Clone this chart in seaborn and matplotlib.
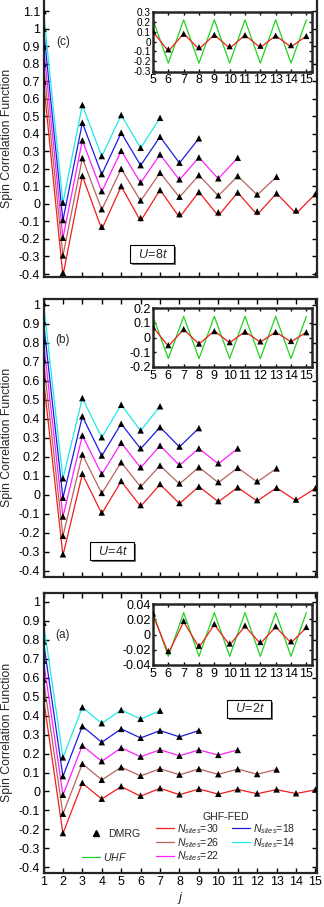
import matplotlib
matplotlib.use("Agg")
import matplotlib.patheffects as pe
import matplotlib.pyplot as plt
import numpy as np
import seaborn as sns
from matplotlib.lines import Line2D

# chain lengths, vertical shift used in the figure, line colours
sites = [30, 26, 22, 18, 14]
shifts = [0.0, 0.1, 0.2, 0.3, 0.4]
site_colors = ["#f41c1c", "#b8645c", "#ff20ff", "#1c1ce6", "#20e8e8"]
uhf_color = "#22d222"

# ---- U = 8t (unshifted values, j = 1 ...) ----
dmrg_u8 = [
    [0.70, -0.393, 0.160, -0.130, 0.102, -0.080, 0.079, -0.058, 0.068, -0.048, 0.065, -0.043, 0.060, -0.037, 0.056],
    [0.70, -0.394, 0.161, -0.130, 0.100, -0.080, 0.078, -0.059, 0.064, -0.051, 0.059, -0.046, 0.055],
    [0.70, -0.393, 0.162, -0.127, 0.103, -0.077, 0.082, -0.060, 0.065, -0.054, 0.063],
    [0.70, -0.392, 0.163, -0.130, 0.106, -0.079, 0.083, -0.065, 0.074],
    [0.70, -0.393, 0.164, -0.127, 0.107, -0.080, 0.091],
]
ghf_u8 = [
    [0.70, -0.410, 0.160, -0.145, 0.100, -0.098, 0.080, -0.077, 0.068, -0.068, 0.065, -0.062, 0.060, -0.055, 0.056],
    [0.70, -0.396, 0.161, -0.133, 0.100, -0.083, 0.078, -0.062, 0.064, -0.054, 0.059, -0.049, 0.055],
    [0.70, -0.395, 0.162, -0.130, 0.103, -0.080, 0.082, -0.063, 0.065, -0.056, 0.063],
    [0.70, -0.394, 0.163, -0.132, 0.106, -0.081, 0.083, -0.067, 0.074],
    [0.70, -0.395, 0.164, -0.129, 0.107, -0.082, 0.091],
]
uhf_u8 = [0.22, -0.22, 0.22, -0.22, 0.22, -0.22, 0.22, -0.22, 0.22, -0.22, 0.22]

# ---- U = 4t ----
dmrg_u4 = [
    [0.61, -0.312, 0.112, -0.092, 0.074, -0.053, 0.058, -0.042, 0.044, -0.032, 0.040, -0.027, 0.038, -0.024, 0.036],
    [0.61, -0.315, 0.113, -0.089, 0.072, -0.054, 0.055, -0.039, 0.046, -0.032, 0.043, -0.028, 0.040],
    [0.61, -0.313, 0.113, -0.089, 0.075, -0.054, 0.060, -0.041, 0.045, -0.033, 0.045],
    [0.61, -0.314, 0.114, -0.092, 0.075, -0.054, 0.057, -0.045, 0.052],
    [0.61, -0.312, 0.110, -0.096, 0.075, -0.060, 0.067],
]
ghf_u4 = [
    [0.61, -0.318, 0.110, -0.098, 0.072, -0.060, 0.056, -0.045, 0.045, -0.036, 0.040, -0.032, 0.038, -0.030, 0.036],
    [0.61, -0.317, 0.113, -0.092, 0.072, -0.057, 0.055, -0.042, 0.046, -0.035, 0.043, -0.031, 0.040],
    [0.61, -0.315, 0.113, -0.092, 0.075, -0.057, 0.060, -0.044, 0.045, -0.036, 0.045],
    [0.61, -0.316, 0.114, -0.094, 0.075, -0.057, 0.057, -0.047, 0.052],
    [0.61, -0.314, 0.110, -0.098, 0.075, -0.062, 0.067],
]
uhf_u4 = [0.145, -0.145, 0.145, -0.145, 0.145, -0.145, 0.145, -0.145, 0.145, -0.145, 0.145]

# ---- U = 2t ----
dmrg_u2 = [
    [0.49, -0.219, 0.046, -0.038, 0.028, -0.022, 0.018, -0.015, 0.014, -0.012, 0.012, -0.010, 0.011, -0.009, 0.010],
    [0.49, -0.217, 0.046, -0.038, 0.028, -0.017, 0.020, -0.011, 0.019, -0.009, 0.018, -0.008, 0.016],
    [0.49, -0.217, 0.042, -0.040, 0.030, -0.016, 0.020, -0.011, 0.019, -0.007, 0.019],
    [0.49, -0.219, 0.044, -0.040, 0.030, -0.017, 0.021, -0.011, 0.021],
    [0.49, -0.220, 0.044, -0.040, 0.030, -0.017, 0.026],
]
ghf_u2 = [
    [0.49, -0.222, 0.044, -0.040, 0.026, -0.025, 0.017, -0.017, 0.013, -0.014, 0.011, -0.012, 0.010, -0.011, 0.009],
    [0.49, -0.219, 0.046, -0.039, 0.028, -0.018, 0.020, -0.012, 0.019, -0.010, 0.018, -0.009, 0.016],
    [0.49, -0.219, 0.042, -0.041, 0.030, -0.017, 0.020, -0.012, 0.019, -0.008, 0.019],
    [0.49, -0.221, 0.044, -0.041, 0.030, -0.018, 0.021, -0.012, 0.021],
    [0.49, -0.222, 0.044, -0.041, 0.030, -0.018, 0.026],
]
uhf_u2 = [0.029, -0.029, 0.029, -0.029, 0.029, -0.029, 0.029, -0.029, 0.029, -0.029, 0.029]

inset_j = list(range(5, 16))

sns.set_style("ticks")
plt.rcParams["font.family"] = ["Liberation Sans", "DejaVu Sans"]
plt.rcParams["mathtext.fontset"] = "custom"
plt.rcParams["mathtext.rm"] = "Liberation Sans"
plt.rcParams["mathtext.it"] = "Liberation Sans:italic"

W, H = 324.0, 907.0
fig = plt.figure(figsize=(W / 100, H / 100), dpi=100)


def px_rect(left, top, right, bottom):
    return [left / W, 1 - bottom / H, (right - left) / W, (bottom - top) / H]


def style_axes(ax, lw, top=True):
    for s in ax.spines.values():
        s.set_linewidth(lw)
    ax.tick_params(direction="in", top=top, right=True, length=3.5, width=1.0,
                   labelsize=9, pad=2.5, colors="black")
    if not top:
        ax.spines["top"].set_visible(False)


panels = [
    # dmrg, ghf, uhf, rect(px), ylim, top ytick, inset rect, inset lim, inset yticks, inset ylabel size, tag, U, U pos
    (dmrg_u8, ghf_u8, uhf_u8, (43.5, 0, 317, 277), (-0.417, 1.163), 1.1,
     (153, 11.5, 311.7, 71.5), 0.305, [-0.3, -0.2, -0.1, 0, 0.1, 0.2, 0.3], 7.2, "(c)", "8", (0.397, 0.083)),
    (dmrg_u4, ghf_u4, uhf_u4, (43.5, 298.5, 317, 576.7), (-0.43, 1.034), 1.0,
     (153, 308, 311.7, 367), 0.203, [-0.2, -0.1, 0, 0.1, 0.2], 9, "(b)", "4", (0.25, 0.092)),
    (dmrg_u2, ghf_u2, uhf_u2, (43.5, 593, 317, 872.7), (-0.428, 1.046), 1.0,
     (153, 604, 311.7, 665), 0.0405, [-0.04, -0.02, 0, 0.02, 0.04], 9, "(a)", "2", (0.751, 0.587)),
]

for k, (dmrg, ghf, uhf, rect, ylim, ytop, irect, ilim, iticks, isize, tag, uval, upos) in enumerate(panels):
    ax = fig.add_axes(px_rect(*rect))
    for shift, col, d, g in zip(shifts, site_colors, dmrg, ghf):
        sns.lineplot(x=np.arange(1, len(g) + 1), y=np.add(g, shift), color=col,
                     linewidth=0.9, ax=ax, zorder=2)
        sns.scatterplot(x=np.arange(1, len(d) + 1), y=np.add(d, shift), marker="^",
                        color="black", s=22, edgecolor="none", ax=ax, zorder=3)
    ax.set_xlim(1, 15.08)
    ax.set_ylim(*ylim)
    ax.set_xticks(range(1, 16))
    yt = np.round(np.arange(-0.4, ytop + 0.01, 0.1), 1)
    ax.set_yticks(yt)
    ax.set_yticklabels([f"{t + 0:g}" for t in yt])
    style_axes(ax, 1.6, top=(k != 0))
    if k == 2:
        ax.set_xticklabels([str(v) for v in range(1, 16)])
        ax.set_xlabel(r"$j$", fontsize=9.5, labelpad=1)
    else:
        ax.set_xticklabels([])
    ax.set_ylabel("Spin Correlation Function", fontsize=8.8)
    ax.yaxis.set_label_coords(-0.11, 0.5)

    ax.text(0.071, 0.85, tag, transform=ax.transAxes, fontsize=8.5,
            ha="center", va="center")
    ut = ax.text(upos[0], upos[1], "  $U$=" + uval + "$t$  ", transform=ax.transAxes,
                 fontsize=9, ha="center", va="center",
                 bbox=dict(boxstyle="square,pad=0.2", fc="white", ec="black", lw=0.8))
    ut.get_bbox_patch().set_path_effects([
        pe.SimplePatchShadow(offset=(1.6, -1.6), shadow_rgbFace="0.45", alpha=1.0),
        pe.Normal()])

    # inset: UHF against GHF-FED / DMRG for the longest chain
    ins = fig.add_axes(px_rect(*irect))
    sns.lineplot(x=inset_j, y=uhf, color=uhf_color, linewidth=0.9, ax=ins)
    sns.lineplot(x=inset_j, y=ghf[0][4:], color=site_colors[0], linewidth=0.9, ax=ins)
    sns.scatterplot(x=inset_j, y=dmrg[0][4:], marker="^", color="black", s=20,
                    edgecolor="none", ax=ins, zorder=3)
    ins.set_xlim(5, 15.35)
    ins.set_ylim(-ilim, ilim)
    ins.set_xticks(inset_j)
    ins.set_xticklabels([str(v) for v in inset_j])
    ins.set_yticks(iticks)
    ins.set_yticklabels([f"{t:g}" for t in iticks])
    style_axes(ins, 1.8)
    ins.tick_params(length=2.5, pad=2)
    ins.tick_params(axis="y", labelsize=isize, pad=1.5)
    ins.set_xlabel("")
    ins.set_ylabel("")

    if k == 2:
        leg_kw = dict(frameon=False, fontsize=7.6, borderpad=0, borderaxespad=0,
                      handlelength=1.7, handletextpad=0.3)
        l1 = ax.legend(handles=[Line2D([], [], marker="^", ls="none", color="black", ms=5)],
                       labels=["DMRG"], loc="center left", bbox_to_anchor=(0.159, 0.138), **leg_kw)
        ax.add_artist(l1)
        l2 = ax.legend(handles=[Line2D([], [], color=uhf_color, lw=0.9)],
                       labels=[r"$UHF$"], loc="center left", bbox_to_anchor=(0.141, 0.056), **leg_kw)
        ax.add_artist(l2)
        handles = [Line2D([], [], color=c, lw=0.9) for c in site_colors]
        labels = [r"$N_{sites}$=" + str(n) for n in sites]
        ax.legend(handles=handles, labels=labels, title="GHF-FED", title_fontsize=7.6,
                  ncol=2, columnspacing=1.2, labelspacing=0.0,
                  loc="upper left", bbox_to_anchor=(0.411, 0.217), **leg_kw)

fig.savefig("out.png", dpi=100)
